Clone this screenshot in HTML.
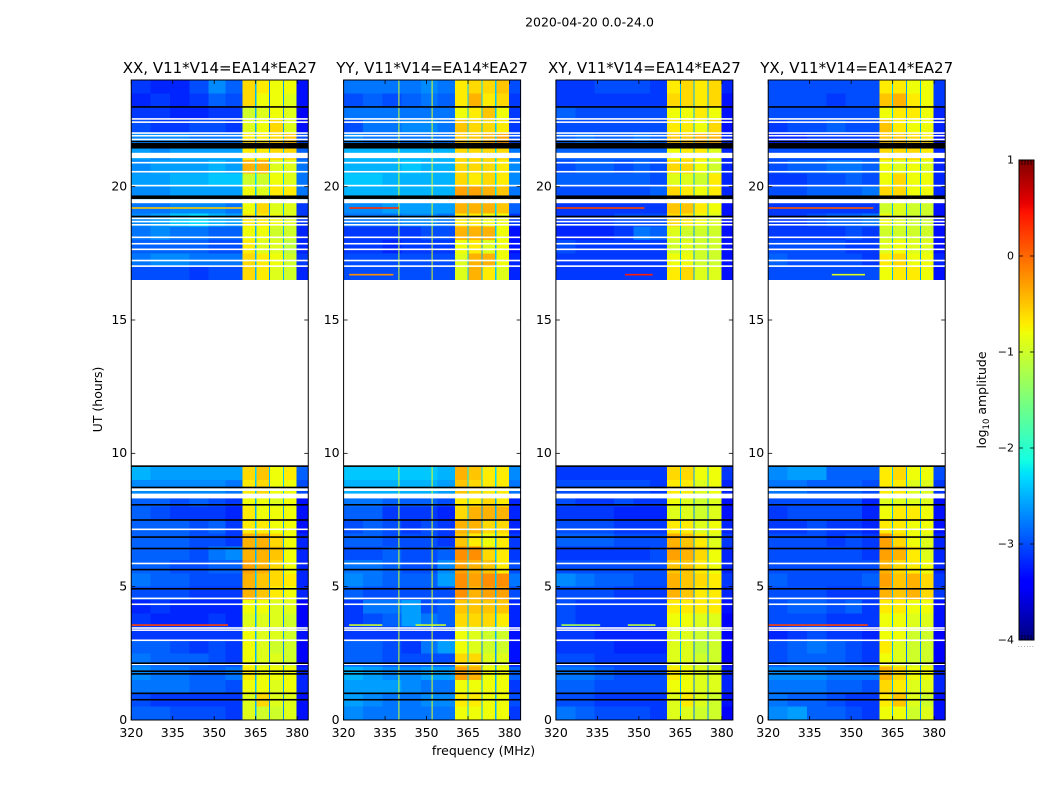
<!DOCTYPE html>
<html lang="en">
<head>
<meta charset="utf-8">
<title>2020-04-20 0.0-24.0</title>
<style>
html,body{margin:0;padding:0;background:#fff;}
svg{display:block;}
text{font-family:"DejaVu Sans","Liberation Sans",sans-serif;fill:#000;}
</style>
</head>
<body>
<svg id="chart" xmlns="http://www.w3.org/2000/svg" width="1050" height="800" viewBox="0 0 1050 800">
  <rect x="0" y="0" width="1050" height="800" fill="#fff"/>
  <text x="589.5" y="26.5" font-size="12.5" text-anchor="middle">2020-04-20 0.0-24.0</text>
  <text x="0" y="0" font-size="12.5" text-anchor="middle" transform="translate(102,399.5) rotate(-90)">UT (hours)</text>
  <text x="483.5" y="755" font-size="12.5" text-anchor="middle">frequency (MHz)</text>
  <text x="0" y="0" font-size="12.5" text-anchor="middle" transform="translate(986,400) rotate(-90)">log<tspan font-size="8.5" dy="3">10</tspan><tspan dy="-3"> amplitude</tspan></text>
</svg>
<script>
// ---- chart data (log10 amplitude x10 for each time band / frequency bin) ----
const panelTitles = ["XX, V11*V14=EA14*EA27","YY, V11*V14=EA14*EA27","XY, V11*V14=EA14*EA27","YX, V11*V14=EA14*EA27"];
const freqEdges = [320,327,334,341,348,354,360.2,364.8,365.2,369.8,370.2,374.8,375.2,379.8,384];
const timeStarts = [23.5,23,22.5,22,21.5,21,20.5,20,19.5,19,18.5,18,17.5,17,16.5,9,8.5,8,7.5,7,6.5,6,5.5,5,4.5,4,3.5,3,2.5,2,1.5,1,0.5,0];
const timeBandHours = 0.5;
const xTickValues = [320,335,350,365,380];
const yTickValues = [0,5,10,15,20];
const colorbarTicks = [1,0,-1,-2,-3,-4];

const ampXX = [
[-31,-32,-32,-30,-27,-29,-6,-25,-7,-27,-8,-26,-8,-33],
[-32,-31,-32,-31,-29,-30,-6,-25,-8,-28,-8,-26,-9,-33],
[-31,-31,-32,-32,-31,-31,-10,-25,-9,-29,-8,-27,-9,-34],
[-30,-31,-31,-30,-30,-31,-9,-25,-8,-28,-6,-26,-9,-33],
[-27,-27,-27,-28,-28,-28,-7,-25,-7,-26,-6,-25,-5,-30],
[-26,-27,-26,-26,-26,-26,-7,-24,-7,-25,-6,-24,-6,-29],
[-27,-26,-26,-26,-25,-26,-4,-23,-4,-25,-9,-24,-9,-28],
[-26,-26,-25,-25,-24,-24,-10,-23,-10,-24,-8,-24,-9,-28],
[-27,-27,-26,-26,-26,-26,-8,-24,-9,-24,-7,-24,-7,-28],
[-28,-28,-27,-27,-27,-28,-8,-25,-6,-26,-9,-25,-9,-31],
[-27,-26,-24,-23,-25,-26,-7,-25,-7,-26,-8,-25,-9,-31],
[-28,-27,-28,-28,-29,-29,-8,-25,-8,-26,-10,-25,-10,-32],
[-29,-29,-29,-29,-30,-30,-7,-25,-9,-27,-9,-25,-11,-32],
[-28,-27,-27,-28,-28,-28,-6,-25,-7,-26,-8,-25,-10,-31],
[-30,-30,-30,-31,-30,-30,-6,-25,-7,-27,-9,-25,-10,-32],
[-25,-26,-26,-26,-26,-26,-6,-23,-5,-24,-8,-24,-7,-29],
[-27,-27,-27,-27,-27,-28,-7,-24,-6,-25,-8,-24,-8,-30],
[-29,-29,-30,-29,-30,-31,-8,-25,-8,-27,-9,-25,-8,-33],
[-29,-30,-31,-31,-31,-32,-7,-25,-8,-28,-8,-26,-8,-33],
[-29,-29,-29,-30,-29,-31,-7,-24,-7,-27,-8,-26,-8,-33],
[-29,-29,-29,-30,-30,-31,-4,-24,-4,-27,-6,-26,-8,-32],
[-29,-29,-29,-30,-28,-27,-4,-25,-4,-27,-5,-26,-8,-32],
[-29,-29,-30,-30,-29,-29,-3,-24,-4,-26,-6,-26,-8,-32],
[-28,-29,-29,-30,-30,-30,-4,-24,-5,-26,-6,-26,-7,-32],
[-30,-30,-30,-31,-31,-31,-4,-25,-5,-27,-7,-26,-8,-32],
[-32,-31,-32,-32,-32,-32,-8,-25,-8,-28,-9,-27,-9,-34],
[-31,-32,-32,-32,-31,-32,-9,-25,-9,-28,-9,-27,-10,-34],
[-31,-31,-31,-31,-31,-31,-8,-25,-9,-28,-9,-26,-10,-33],
[-29,-29,-30,-31,-30,-31,-8,-25,-9,-28,-10,-27,-10,-34],
[-28,-29,-29,-29,-30,-31,-8,-25,-9,-28,-9,-27,-10,-34],
[-27,-28,-28,-29,-29,-28,-7,-25,-8,-27,-8,-26,-8,-32],
[-28,-28,-28,-29,-29,-30,-8,-24,-8,-27,-9,-26,-8,-32],
[-30,-31,-31,-31,-31,-31,-9,-25,-6,-27,-9,-27,-9,-33],
[-29,-29,-30,-30,-30,-31,-9,-25,-10,-27,-10,-27,-9,-33]
];
const ampYY = [
[-28,-28,-28,-28,-27,-28,-7,-24,-6,-23,-6,-24,-5,-30],
[-30,-29,-30,-29,-28,-29,-7,-24,-4,-24,-7,-24,-6,-31],
[-28,-28,-28,-28,-28,-28,-8,-24,-7,-24,-5,-24,-8,-31],
[-30,-28,-28,-27,-27,-28,-5,-24,-6,-24,-6,-24,-7,-31],
[-27,-28,-28,-28,-28,-28,-5,-23,-5,-24,-4,-24,-3,-30],
[-25,-25,-25,-25,-25,-25,-6,-23,-6,-23,-6,-23,-6,-28],
[-25,-25,-25,-24,-25,-25,-6,-23,-6,-23,-6,-23,-7,-27],
[-24,-24,-25,-25,-25,-25,-6,-23,-7,-23,-6,-23,-7,-27],
[-25,-25,-25,-25,-25,-25,-3,-23,-3,-23,-4,-23,-5,-28],
[-27,-27,-26,-26,-26,-26,-4,-23,-4,-23,-4,-23,-5,-29],
[-28,-28,-28,-27,-27,-28,-7,-25,-7,-26,-8,-25,-8,-31],
[-31,-31,-31,-31,-30,-30,-4,-24,-4,-25,-4,-24,-8,-33],
[-31,-31,-32,-31,-31,-31,-8,-25,-7,-26,-9,-25,-8,-33],
[-30,-30,-30,-30,-30,-30,-9,-24,-4,-25,-4,-24,-8,-32],
[-30,-30,-30,-30,-30,-30,-9,-24,-4,-25,-7,-24,-9,-32],
[-24,-24,-24,-24,-24,-25,-4,-22,-5,-23,-7,-23,-7,-27],
[-25,-25,-25,-25,-25,-26,-5,-23,-6,-24,-7,-23,-7,-28],
[-28,-28,-29,-29,-29,-30,-7,-24,-7,-26,-6,-25,-7,-32],
[-29,-29,-31,-31,-31,-32,-6,-24,-4,-26,-4,-25,-4,-32],
[-30,-29,-30,-31,-30,-31,-4,-24,-4,-26,-6,-25,-6,-32],
[-29,-29,-30,-30,-30,-31,-5,-24,-7,-26,-8,-25,-7,-31],
[-30,-30,-29,-30,-30,-29,-2,-23,-2,-25,-6,-24,-7,-31],
[-28,-28,-29,-30,-30,-27,-3,-23,-4,-25,-5,-25,-7,-30],
[-27,-28,-29,-29,-29,-26,-2,-23,-3,-25,-2,-24,-2,-28],
[-29,-30,-30,-30,-30,-30,-2,-24,-4,-26,-3,-25,-3,-30],
[-31,-28,-28,-26,-30,-29,-5,-24,-5,-26,-5,-25,-5,-32],
[-31,-30,-29,-26,-28,-29,-6,-24,-6,-26,-6,-25,-7,-32],
[-31,-31,-31,-31,-31,-31,-8,-24,-9,-26,-10,-25,-10,-33],
[-29,-29,-30,-31,-28,-26,-8,-24,-9,-27,-10,-26,-10,-33],
[-29,-29,-30,-30,-30,-30,-6,-24,-6,-27,-9,-26,-9,-33],
[-25,-26,-27,-27,-26,-26,-3,-24,-4,-25,-8,-25,-8,-29],
[-26,-26,-26,-27,-28,-28,-8,-24,-8,-25,-8,-25,-8,-31],
[-26,-27,-28,-28,-27,-27,-7,-24,-7,-25,-8,-25,-8,-30],
[-27,-28,-28,-28,-28,-28,-8,-24,-8,-25,-8,-25,-8,-31]
];
const ampXY = [
[-31,-31,-30,-30,-30,-31,-7,-25,-6,-25,-7,-26,-6,-32],
[-31,-31,-31,-31,-31,-31,-6,-25,-6,-25,-7,-26,-6,-33],
[-29,-30,-30,-30,-30,-30,-8,-25,-8,-25,-7,-25,-8,-33],
[-30,-30,-30,-30,-30,-30,-7,-25,-7,-25,-8,-25,-6,-33],
[-29,-28,-29,-29,-28,-29,-5,-25,-5,-25,-4,-25,-4,-32],
[-29,-29,-29,-29,-29,-29,-8,-25,-7,-25,-7,-25,-9,-32],
[-30,-29,-29,-30,-29,-30,-6,-24,-6,-25,-8,-25,-10,-32],
[-29,-29,-29,-29,-29,-30,-9,-25,-9,-25,-10,-25,-7,-32],
[-30,-30,-30,-30,-30,-29,-6,-24,-7,-25,-8,-25,-7,-32],
[-31,-31,-31,-31,-31,-31,-5,-24,-5,-25,-7,-25,-8,-33],
[-31,-31,-31,-30,-30,-30,-6,-24,-7,-25,-8,-25,-9,-33],
[-32,-32,-32,-31,-28,-29,-9,-25,-10,-26,-10,-25,-10,-33],
[-30,-31,-31,-31,-31,-31,-10,-25,-9,-26,-10,-25,-10,-33],
[-31,-31,-31,-31,-31,-31,-8,-25,-8,-26,-10,-26,-10,-33],
[-31,-31,-31,-31,-31,-31,-7,-25,-6,-26,-9,-26,-9,-33],
[-31,-31,-31,-31,-31,-31,-6,-24,-6,-26,-8,-25,-8,-31],
[-30,-30,-30,-30,-30,-31,-7,-24,-7,-26,-9,-25,-8,-32],
[-30,-31,-31,-30,-31,-31,-8,-25,-9,-27,-10,-26,-9,-33],
[-31,-31,-31,-32,-32,-32,-9,-25,-9,-27,-10,-26,-9,-33],
[-30,-30,-30,-31,-31,-31,-7,-25,-7,-27,-9,-26,-8,-32],
[-29,-29,-29,-30,-30,-30,-4,-25,-5,-26,-7,-26,-9,-31],
[-31,-31,-31,-31,-31,-30,-3,-25,-4,-27,-6,-26,-8,-32],
[-30,-30,-30,-30,-30,-30,-5,-25,-5,-26,-7,-26,-8,-32],
[-27,-28,-29,-29,-30,-30,-4,-25,-5,-27,-6,-26,-7,-31],
[-30,-30,-30,-31,-31,-31,-4,-25,-5,-27,-7,-26,-7,-32],
[-30,-31,-31,-31,-31,-31,-7,-25,-7,-28,-7,-27,-7,-33],
[-30,-31,-31,-31,-31,-31,-8,-25,-8,-28,-9,-27,-9,-34],
[-31,-31,-32,-32,-32,-32,-9,-25,-9,-28,-10,-27,-10,-34],
[-31,-31,-31,-32,-32,-32,-9,-25,-9,-28,-11,-27,-10,-34],
[-30,-30,-31,-31,-31,-31,-9,-25,-9,-28,-10,-27,-10,-34],
[-28,-28,-29,-30,-30,-30,-7,-25,-8,-28,-9,-27,-9,-32],
[-29,-29,-30,-30,-30,-30,-8,-25,-8,-28,-9,-27,-9,-32],
[-30,-30,-31,-31,-31,-31,-9,-25,-7,-28,-9,-27,-10,-33],
[-28,-29,-30,-30,-30,-31,-9,-25,-9,-28,-10,-27,-10,-34]
];
const ampYX = [
[-30,-30,-30,-30,-30,-30,-7,-24,-7,-26,-8,-25,-8,-31],
[-30,-30,-30,-31,-30,-30,-5,-24,-4,-26,-7,-25,-8,-31],
[-30,-30,-30,-30,-30,-30,-8,-24,-7,-26,-7,-25,-8,-32],
[-31,-30,-30,-29,-30,-30,-5,-24,-7,-26,-8,-25,-8,-32],
[-32,-32,-31,-31,-31,-31,-5,-25,-5,-26,-6,-25,-7,-33],
[-30,-30,-30,-30,-30,-30,-6,-24,-6,-25,-6,-25,-7,-32],
[-30,-29,-29,-28,-28,-29,-8,-24,-9,-26,-8,-25,-9,-32],
[-31,-31,-30,-30,-29,-30,-8,-24,-6,-26,-8,-25,-8,-32],
[-30,-30,-29,-29,-29,-28,-6,-24,-6,-26,-8,-25,-8,-32],
[-31,-31,-31,-31,-31,-31,-10,-25,-9,-26,-10,-26,-10,-33],
[-31,-31,-30,-29,-29,-28,-8,-25,-9,-27,-10,-26,-10,-33],
[-31,-31,-31,-31,-30,-31,-10,-25,-10,-27,-10,-26,-10,-33],
[-30,-30,-30,-30,-31,-31,-9,-25,-8,-27,-9,-26,-9,-33],
[-29,-30,-30,-30,-30,-31,-7,-25,-6,-27,-8,-26,-8,-32],
[-30,-30,-30,-30,-30,-30,-8,-25,-7,-27,-7,-26,-8,-33],
[-27,-26,-26,-29,-29,-29,-7,-24,-6,-26,-8,-25,-8,-30],
[-28,-28,-29,-29,-29,-30,-7,-24,-7,-26,-9,-25,-9,-31],
[-30,-30,-30,-30,-30,-32,-9,-25,-9,-27,-9,-26,-9,-33],
[-31,-30,-30,-30,-30,-32,-8,-25,-7,-27,-7,-26,-8,-33],
[-31,-31,-30,-31,-31,-32,-7,-25,-7,-27,-8,-26,-8,-33],
[-30,-30,-30,-31,-30,-31,-3,-25,-6,-27,-8,-26,-9,-32],
[-30,-30,-30,-30,-30,-31,-3,-25,-4,-27,-7,-26,-9,-32],
[-30,-30,-30,-30,-30,-30,-4,-25,-6,-27,-7,-26,-8,-32],
[-29,-30,-30,-30,-30,-29,-3,-25,-5,-27,-4,-26,-6,-31],
[-30,-30,-30,-31,-31,-31,-4,-25,-5,-27,-4,-26,-6,-31],
[-30,-29,-29,-30,-29,-31,-7,-25,-7,-27,-8,-26,-8,-33],
[-30,-30,-30,-31,-31,-31,-8,-25,-8,-28,-9,-27,-9,-33],
[-32,-31,-30,-31,-31,-32,-8,-25,-8,-28,-10,-27,-10,-34],
[-30,-29,-28,-29,-30,-31,-7,-25,-9,-28,-10,-27,-10,-34],
[-30,-29,-29,-29,-30,-31,-8,-25,-9,-28,-10,-27,-10,-34],
[-27,-27,-27,-28,-28,-28,-4,-25,-6,-27,-8,-27,-8,-32],
[-28,-28,-28,-29,-29,-30,-6,-25,-7,-27,-9,-27,-9,-32],
[-28,-29,-29,-30,-31,-31,-7,-25,-5,-27,-9,-27,-10,-33],
[-27,-26,-29,-29,-30,-31,-8,-25,-8,-27,-10,-27,-9,-33]
];
const panelAmps = [ampXX, ampYY, ampXY, ampYX];

// flagged (blank) intervals in UT hours, shared by every baseline panel
const whiteStart = [22.51,22.39,21.98,21.88,21.74,21.07,20.87,20.53,20.01,19.38,18.78,18.66,18.54,18.07,17.83,17.62,17.2,16.99,8.59,8.31,7.12,5.84,4.53,4.31,3.42,3.34,2.96,2.06];
const whiteEnd = [22.57,22.45,22.04,21.94,21.8,21.27,20.93,20.59,20.07,19.53,18.84,18.72,18.6,18.13,17.89,17.68,17.26,17.05,8.69,8.49,7.18,5.9,4.59,4.37,3.48,3.4,3.02,2.12];
// instrument dropout lines drawn black
const blackStart = [22.96,21.67,21.43,19.54,18.85,9.49,8.69,8.04,7.47,6.83,6.4,5.61,4.89,2.1,1.8,1.7,0.97,0.73];
const blackEnd = [23.02,21.72,21.64,19.67,18.91,9.55,8.75,8.1,7.53,6.89,6.46,5.67,4.95,2.16,1.86,1.76,1.03,0.79];

// narrow-band interference: panel index, UT hour, start MHz, end MHz, log10 amp
const rfiPanel = [0,0,1,1,1,1,2,2,2,2,3,3,3];
const rfiHour = [3.56,19.2,3.56,3.56,19.2,16.7,3.56,3.56,19.2,16.7,3.56,19.2,16.7];
const rfiFrom = [320,320,322,346,322,322,322,346,320,345,320,320,343];
const rfiTo = [355,360,334,357,340,338,336,356,352,355,356,358,355];
const rfiLevel = [0.2,-0.5,-1,-1,0.3,-0.2,-1.2,-1.1,0.2,0.4,0.2,0.1,-0.9];

// persistent birdie channels (yellow vertical streaks in the YY panel)
const birdiePanel = [1,1,1,1];
const birdieFreq = [340,352,340,352];
const birdieFrom = [0,0,16.5,16.5];
const birdieTo = [9.5,9.5,24,24];
const birdieLevel = [-1,-0.9,-1,-0.9];

// ---- layout ----
const SVGNS = "http://www.w3.org/2000/svg";
const svg = document.getElementById("chart");
const plotLefts = [131.25,343.6,555.9,768.2];
const plotWidth = 177, plotTop = 80, plotBottom = 720;
const cbarLeft = 1019, cbarWidth = 15, cbarTop = 160, cbarBottom = 640;

function xScale(panel, f){ return plotLefts[panel] + (f - 320) / 64 * plotWidth; }
function yScale(t){ return plotBottom - t / 24 * (plotBottom - plotTop); }
function cbarScale(v){ return cbarBottom - (v + 4) / 5 * (cbarBottom - cbarTop); }

function jet(v){
  const f = Math.min(1, Math.max(0, (v + 4) / 5));
  const seg = (p, pts) => {
    for (let i = 1; i < pts.length; i++) {
      if (p <= pts[i][0]) {
        const a = pts[i-1], b = pts[i];
        return a[1] + (b[1]-a[1]) * (p-a[0]) / (b[0]-a[0]);
      }
    }
    return pts[pts.length-1][1];
  };
  const r = seg(f, [[0,0],[0.35,0],[0.66,1],[0.89,1],[1,0.5]]);
  const g = seg(f, [[0,0],[0.125,0],[0.375,1],[0.64,1],[0.91,0],[1,0]]);
  const b = seg(f, [[0,0.5],[0.11,1],[0.34,1],[0.65,0],[1,0]]);
  return "rgb(" + Math.round(r*255) + "," + Math.round(g*255) + "," + Math.round(b*255) + ")";
}

function el(tag, attrs, parent){
  const e = document.createElementNS(SVGNS, tag);
  for (const k in attrs) e.setAttribute(k, attrs[k]);
  parent.appendChild(e);
  return e;
}

panelTitles.forEach(function(title, p){
  const g = el("g", {}, svg);
  
  

  const cells = el("g", {"shape-rendering":"crispEdges"}, g);
  
  
  const matrix = panelAmps[p];
  timeStarts.forEach(function(t, r){
    const yTop = yScale(t + timeBandHours), yBot = yScale(t);
    for (let c = 0; c < freqEdges.length - 1; c++) {
      const x0 = xScale(p, freqEdges[c]), x1 = xScale(p, freqEdges[c+1]);
      const cell = el("rect", {x:x0.toFixed(2), y:yTop.toFixed(2), width:(x1-x0).toFixed(2), height:(yBot-yTop).toFixed(2), fill:jet(matrix[r][c]/10)}, cells);
      
      
    }
  });

  birdiePanel.forEach(function(bp, i){
    if (bp !== p) return;
    const streak = el("rect", {x:(xScale(p,birdieFreq[i])-0.5).toFixed(2), y:yScale(birdieTo[i]).toFixed(2), width:1, height:(yScale(birdieFrom[i])-yScale(birdieTo[i])).toFixed(2), fill:jet(birdieLevel[i])}, g);
    
    
  });

  rfiPanel.forEach(function(rp, i){
    if (rp !== p) return;
    const x0 = xScale(p, rfiFrom[i]);
    const line = el("rect", {x:x0.toFixed(2), y:(yScale(rfiHour[i])-0.8).toFixed(2), width:(xScale(p,rfiTo[i])-x0).toFixed(2), height:1.6, fill:jet(rfiLevel[i])}, g);
    
    
  });

  whiteStart.forEach(function(s, i){
    const yA = yScale(whiteEnd[i]), yB = yScale(s);
    const band = el("rect", {x:plotLefts[p], y:yA.toFixed(2), width:plotWidth, height:(yB-yA).toFixed(2), fill:"#fff"}, g);
    
    
  });
  blackStart.forEach(function(s, i){
    const yA = yScale(blackEnd[i]), yB = yScale(s);
    const band = el("rect", {x:plotLefts[p], y:yA.toFixed(2), width:plotWidth, height:(yB-yA).toFixed(2), fill:"#000"}, g);
    
    
  });

  const L = plotLefts[p], R = L + plotWidth;
  xTickValues.forEach(function(v){
    const x = xScale(p, v);
    const t1 = el("line", {x1:x, x2:x, y1:plotBottom, y2:plotBottom-4, stroke:"#000", "stroke-width":0.8}, g);
    
    
    const t2 = el("line", {x1:x, x2:x, y1:plotTop, y2:plotTop+4, stroke:"#000", "stroke-width":0.8}, g);
    
    
    const lab = el("text", {x:x, y:plotBottom+17, "font-size":12.5, "text-anchor":"middle"}, g);
    lab.textContent = v;
    
    
  });
  yTickValues.forEach(function(v){
    const y = yScale(v);
    const t1 = el("line", {x1:L, x2:L+4, y1:y, y2:y, stroke:"#000", "stroke-width":0.8}, g);
    
    
    const t2 = el("line", {x1:R, x2:R-4, y1:y, y2:y, stroke:"#000", "stroke-width":0.8}, g);
    
    
    const lab = el("text", {x:L-4, y:y+3.8, "font-size":12.5, "text-anchor":"end"}, g);
    lab.textContent = v;
    
    
  });

  const spine = el("rect", {x:L, y:plotTop, width:plotWidth, height:plotBottom-plotTop, fill:"none", stroke:"#000", "stroke-width":1}, g);
  
  

  const ttl = el("text", {x:L+plotWidth/2, y:plotTop-7, "font-size":15, "text-anchor":"middle"}, g);
  ttl.textContent = title;
  
  
});

// ---- colour bar ----
const cb = el("g", {}, svg);


const cbStrips = el("g", {"shape-rendering":"crispEdges"}, cb);


for (let py = cbarTop; py < cbarBottom; py += 2) {
  const val = 1 - (py + 1 - cbarTop) / (cbarBottom - cbarTop) * 5;
  const strip = el("rect", {x:cbarLeft, y:py, width:cbarWidth, height:2, fill:jet(val)}, cbStrips);
  
  
}
colorbarTicks.forEach(function(v){
  const y = cbarScale(v);
  const a = el("line", {x1:cbarLeft, x2:cbarLeft+4, y1:y, y2:y, stroke:"#000", "stroke-width":0.8}, cb);
  
  
  const b = el("line", {x1:cbarLeft+cbarWidth, x2:cbarLeft+cbarWidth-4, y1:y, y2:y, stroke:"#000", "stroke-width":0.8}, cb);
  
  
  const lab = el("text", {x:cbarLeft-5, y:y+3.5, "font-size":11, "text-anchor":"end"}, cb);
  lab.textContent = v < 0 ? "\u2212" + Math.abs(v) : String(v);
  
  
});
for (let i = 1; i <= 4; i++) {
  const xm = cbarLeft + i * cbarWidth / 5;
  const topMinor = el("line", {x1:xm, x2:xm, y1:cbarTop, y2:cbarTop+5, stroke:"#000", "stroke-width":0.7}, cb);
  
  
  const botMinor = el("line", {x1:xm, x2:xm, y1:cbarBottom, y2:cbarBottom-5, stroke:"#000", "stroke-width":0.7}, cb);
  
  
}
const cbFrame = el("rect", {x:cbarLeft, y:cbarTop, width:cbarWidth, height:cbarBottom-cbarTop, fill:"none", stroke:"#000", "stroke-width":1}, cb);


const cbDots = el("text", {x:cbarLeft+7.5, y:647, "font-size":5, "text-anchor":"middle", "letter-spacing":"1.2", fill:"#777"}, cb);
cbDots.textContent = "......";


</script>
</body>
</html>
